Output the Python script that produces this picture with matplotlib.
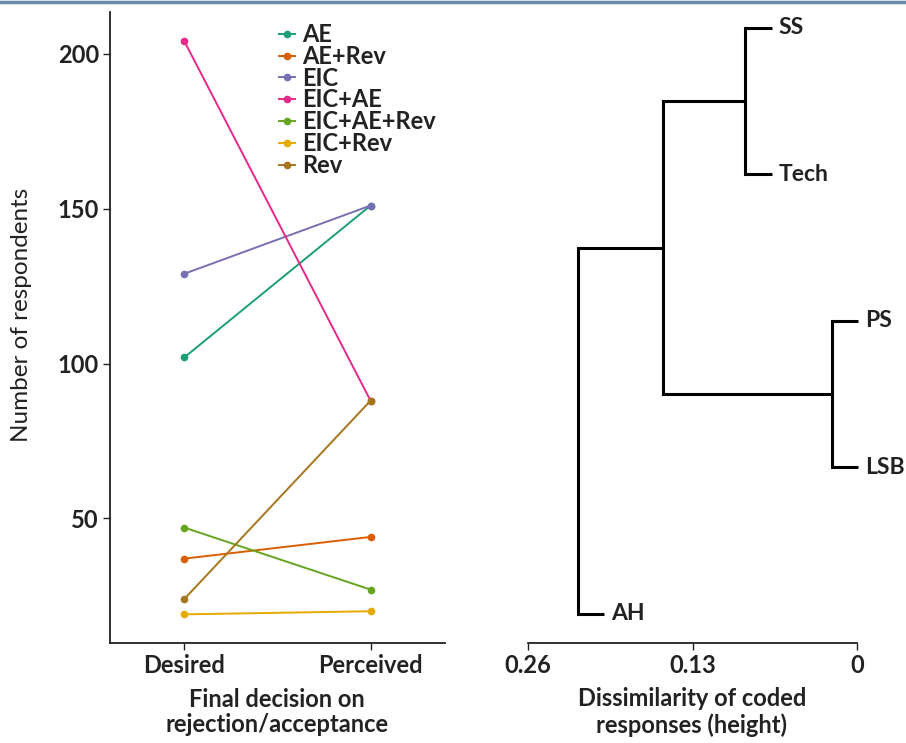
import matplotlib
matplotlib.use("Agg")
import matplotlib.pyplot as plt
from matplotlib.lines import Line2D

plt.rcParams["font.family"] = ["Lato", "DejaVu Sans"]

# ─── Data ────────────────────────────────────────────────────────────────────

stages = ["Desired", "Perceived"]
groups = ["AE", "AE+Rev", "EIC", "EIC+AE", "EIC+AE+Rev", "EIC+Rev", "Rev"]
desired = [102, 37, 129, 204, 47, 19, 24]
perceived = [151, 44, 151, 88, 27, 20, 88]
colors = ["#1B9E77", "#D95F02", "#7570B3", "#E7298A", "#66A61E", "#E6AB02", "#A6761D"]

# dendrogram (leaves listed bottom to top)
leaves = ["AH", "LSB", "PS", "Tech", "SS"]
merge_pairs = [("SS", "Tech"), ("PS", "LSB"), ("SS+Tech", "PS+LSB"), ("SS+Tech+PS+LSB", "AH")]
merge_heights = [0.0885, 0.0198, 0.153, 0.2206]
height_ticks = [0.26, 0.13, 0]
height_ticklabels = ["0.26", "0.13", "0"]

W, H = 906, 743
fig = plt.figure(figsize=(W / 100, H / 100), dpi=100)


def fx(px):
    return px / W


def fy(py):
    return 1 - py / H


INK = "#222222"
FS = 17

# ─── Left: slope chart ───────────────────────────────────────────────────────

ax = fig.add_axes([fx(110), fy(643), fx(445) - fx(110), fy(12) - fy(643)])
xpos = [1, 2]
for g, d, p, c in zip(groups, desired, perceived, colors):
    ax.plot(xpos, [d, p], color=c, lw=1.4, marker="o", ms=4.5, label=g)

ax.set_xlim(0.6, 2.4)
ax.set_ylim(9.75, 213.5)
ax.set_xticks(xpos)
ax.set_xticklabels(stages)
ax.set_yticks([50, 100, 150, 200])
for s in ["top", "right"]:
    ax.spines[s].set_visible(False)
for s in ["left", "bottom"]:
    ax.spines[s].set_linewidth(1.3)
    ax.spines[s].set_color(INK)
ax.tick_params(length=5, width=1.0, color=INK, labelsize=FS, labelcolor=INK,
               pad=3)
for t in ax.get_xticklabels() + ax.get_yticklabels():
    t.set_fontweight("bold")

leg = ax.legend(loc="upper left", bbox_to_anchor=(fx(279), fy(23)),
                bbox_transform=fig.transFigure, frameon=False,
                fontsize=FS, handlelength=0.68, handletextpad=0.28,
                labelspacing=-0.05, borderpad=0, borderaxespad=0)
for t in leg.get_texts():
    t.set_fontweight("bold")
    t.set_color(INK)

fig.text(fx(22), fy(315), "Number of respondents", rotation=90,
         ha="center", va="center", fontsize=17.5, color=INK)
fig.text(fx(277), fy(712), "Final decision on\nrejection/acceptance",
         ha="center", va="center", fontsize=FS, fontweight="bold",
         color=INK, linespacing=1.15)

# ─── Right: dendrogram ───────────────────────────────────────────────────────

ax2 = fig.add_axes([fx(528), fy(643), fx(857) - fx(528), fy(12) - fy(643)])
hang = 0.095 * max(merge_heights)
node_y = {name: i + 1 for i, name in enumerate(leaves)}
node_h = {}
for (a, b), h in zip(merge_pairs, merge_heights):
    for child in (a, b):
        ch = node_h.get(child, h - hang)
        ax2.plot([ch, h], [node_y[child], node_y[child]], color="black",
                 lw=2.2, solid_capstyle="butt", clip_on=False)
        if child in leaves:
            ax2.annotate(child, (ch, node_y[child]), xytext=(5, 0),
                         textcoords="offset points", ha="left", va="center",
                         fontsize=16.5, fontweight="bold", color=INK,
                         annotation_clip=False)
    ax2.plot([h, h], [node_y[a], node_y[b]], color="black", lw=2.2,
             solid_capstyle="projecting", clip_on=False)
    new = a + "+" + b
    node_y[new] = (node_y[a] + node_y[b]) / 2
    node_h[new] = h

ax2.set_xlim(0.26, 0)
ax2.set_ylim(0.802, 5.109)
ax2.set_xticks(height_ticks)
ax2.set_xticklabels(height_ticklabels)
ax2.set_yticks([])
for s in ["top", "right", "left"]:
    ax2.spines[s].set_visible(False)
ax2.spines["bottom"].set_linewidth(1.3)
ax2.spines["bottom"].set_color(INK)
ax2.tick_params(axis="x", length=5, width=1.0, color=INK, labelsize=FS,
                labelcolor=INK, pad=3)
for t in ax2.get_xticklabels():
    t.set_fontweight("bold")

fig.text(fx(692), fy(712), "Dissimilarity of coded\nresponses (height)",
         ha="center", va="center", fontsize=FS, fontweight="bold",
         color=INK, linespacing=1.15)

# thin frame line at the top
fig.add_artist(Line2D([0, 1], [fy(1.5), fy(1.5)], transform=fig.transFigure,
                      color="#6A88A8", lw=2.5))

fig.savefig("out.png", dpi=100)
